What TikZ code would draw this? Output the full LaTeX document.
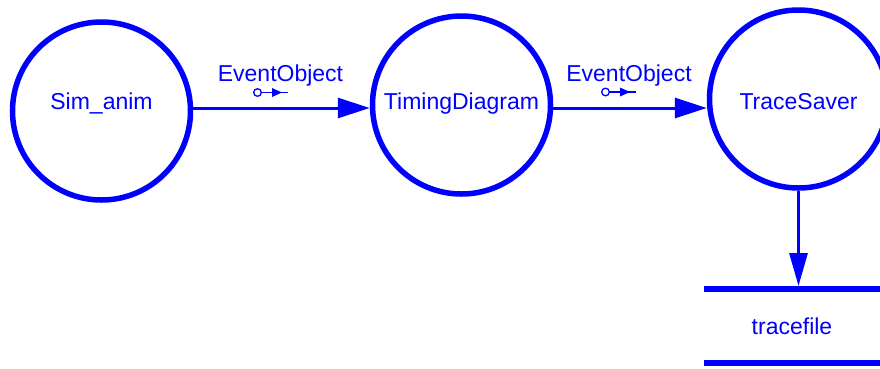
\documentclass[tikz,border=0pt]{standalone}
\usepackage{fontspec}
\setmainfont{Liberation Sans}
\usetikzlibrary{arrows.meta}
\definecolor{dfdblue}{RGB}{0,0,255}
\tikzset{
  proc/.style={circle, draw=dfdblue, line width=5.5pt, minimum size=178pt, inner sep=0pt},
  lbl/.style={text=dfdblue, font=\fontsize{23}{27}\selectfont, inner sep=0pt, text height=16.5pt, text depth=0pt},
  flow/.style={draw=dfdblue, line width=3pt, -{Triangle[length=32pt,width=20pt]}},
  vflow/.style={draw=dfdblue, line width=3pt, -{Triangle[length=33pt,width=18pt]}},
  bar/.style={draw=dfdblue, line width=6pt},
  store/.style={lbl, minimum width=176pt, minimum height=74pt, outer sep=0pt},
  msg/.pic={
    \draw[dfdblue, line width=1.3pt] (0,0) circle (3.8pt);
    \draw[dfdblue, line width=1.6pt] (3.8,0) -- (30.5,0);
    \fill[dfdblue] (14.5,-4.5) -- (24.5,0) -- (14.5,4.5) -- cycle;
  }
}
\begin{document}
\begin{tikzpicture}[x=1pt,y=-1pt]
  \useasboundingbox (0,0) rectangle (880,368);
  \node[proc, label={[lbl,yshift=9.5pt]center:Sim\_anim}] (sim) at (101.5,111) {};
  \node[proc, label={[lbl,yshift=3.5pt]center:TimingDiagram}] (td) at (461.5,105) {};
  \node[proc, label={[lbl,yshift=-2.5pt]center:TraceSaver}] (ts) at (798.5,99) {};
  \node[store] (tf) at (792,326) {tracefile};
  \draw[bar] (tf.north west) -- (tf.north east);
  \draw[bar] (tf.south west) -- (tf.south east);
  \coordinate (lev) at (0,108);
  \draw[flow] (sim.east |- lev) -- (td.west |- lev);
  \draw[flow] (td.east |- lev) -- (ts.west |- lev);
  \draw[vflow] (ts.south) -- ([yshift=3pt]ts.south |- tf.north);
  \node[lbl] (m1) at (280.5,73) {EventObject};
  \node[lbl] (m2) at (629,73) {EventObject};
  \pic at (257.5,92.5) {msg};
  \pic at (605.5,92) {msg};
\end{tikzpicture}
\end{document}
